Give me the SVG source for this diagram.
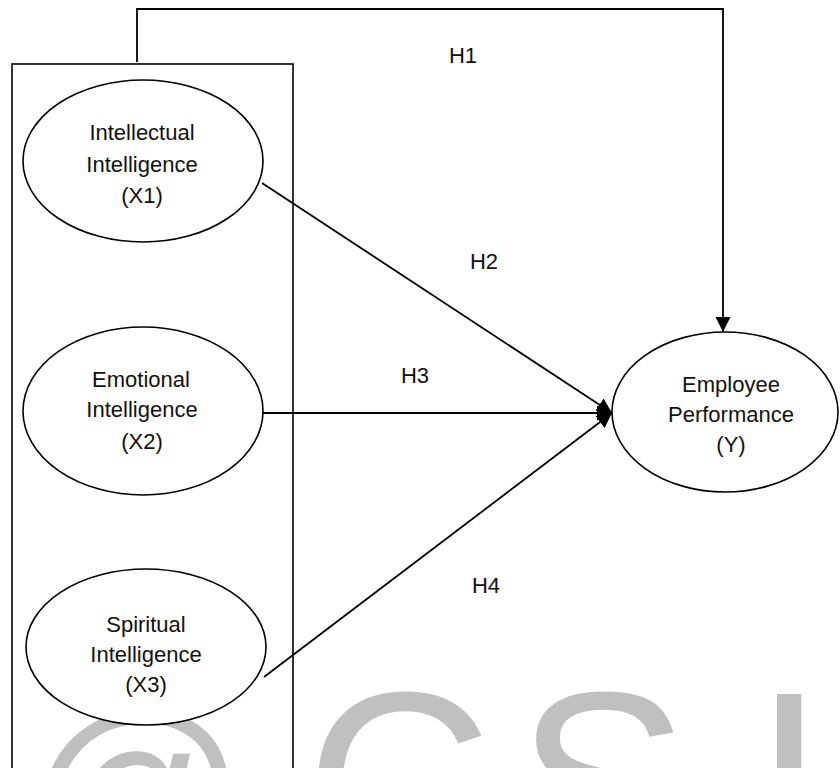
<svg xmlns="http://www.w3.org/2000/svg" width="840" height="768" viewBox="0 0 840 768">
<style>
.t{font-family:"Liberation Sans",Arial,sans-serif;font-size:22px;fill:#111;text-anchor:middle}
.wm{font-family:"Liberation Sans",Arial,sans-serif;fill:#c0c0c0}
.shape{fill:#fff;stroke:#000;stroke-width:1.6}
.conn{fill:none;stroke:#000;stroke-width:1.8}
</style>
<defs>
<marker id="arr" markerUnits="userSpaceOnUse" markerWidth="16" markerHeight="16" refX="15" refY="7.5" orient="auto">
<path d="M0,0 L15,7.5 L0,15 z" fill="#000"/>
</marker>
</defs>
<rect width="840" height="768" fill="#fff"/>
<g id="watermark">
<text class="wm" x="24" y="870" font-size="220">@</text>
<text class="wm" x="305" y="873" font-size="260">C</text>
<text class="wm" x="516" y="873" font-size="260">S</text>
<text class="wm" x="753" y="873" font-size="260">I</text>
</g>
<g id="group-box">
<rect x="12" y="64" width="281" height="720" fill="none" stroke="#000" stroke-width="1.6"/>
</g>
<g id="connectors">
<path class="conn" d="M137,62 V9 H723 V332" marker-end="url(#arr)"/>
<line class="conn" x1="262" y1="183" x2="612" y2="413" marker-end="url(#arr)"/>
<line class="conn" x1="263" y1="413" x2="612" y2="413" marker-end="url(#arr)"/>
<line class="conn" x1="264" y1="677" x2="612" y2="413" marker-end="url(#arr)"/>
<text class="t" x="463" y="63">H1</text>
<text class="t" x="484" y="269">H2</text>
<text class="t" x="415" y="383">H3</text>
<text class="t" x="486" y="593">H4</text>
</g>
<g id="x1">
<ellipse class="shape" cx="143" cy="161" rx="120" ry="81"/>
<text class="t" x="142" y="140">Intellectual</text>
<text class="t" x="142" y="172">Intelligence</text>
<text class="t" x="142" y="203">(X1)</text>
</g>
<g id="x2">
<ellipse class="shape" cx="143" cy="411" rx="120" ry="84"/>
<text class="t" x="141" y="387">Emotional</text>
<text class="t" x="142" y="417">Intelligence</text>
<text class="t" x="142" y="449">(X2)</text>
</g>
<g id="x3">
<ellipse class="shape" cx="146" cy="647" rx="120" ry="78"/>
<text class="t" x="146" y="632">Spiritual</text>
<text class="t" x="146" y="662">Intelligence</text>
<text class="t" x="146" y="692">(X3)</text>
</g>
<g id="y">
<ellipse class="shape" cx="725" cy="412" rx="113" ry="80"/>
<text class="t" x="731" y="392">Employee</text>
<text class="t" x="731" y="422">Performance</text>
<text class="t" x="731" y="452">(Y)</text>
</g>
</svg>
